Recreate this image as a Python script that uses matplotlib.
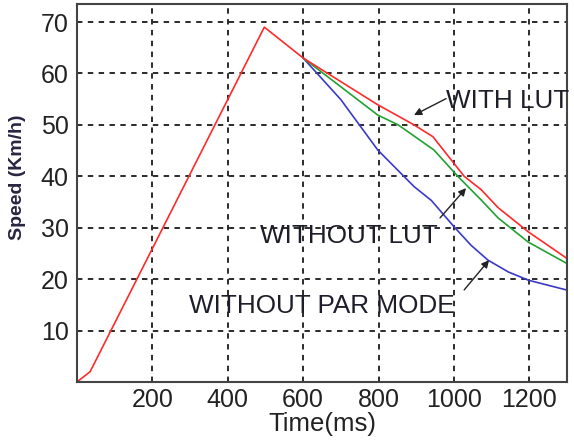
import matplotlib
matplotlib.use("Agg")
import matplotlib.pyplot as plt

# Speed profiles (km/h) versus time (ms)
t_ramp = [0, 35, 497, 600]
v_ramp = [0, 2, 69, 63]

t_with_lut = [600, 700, 798, 894, 944, 1027, 1072, 1117, 1197, 1298]
v_with_lut = [63, 58.4, 53.9, 50, 47.7, 40, 37.4, 33.9, 29.2, 24.1]

t_without_lut = [600, 700, 798, 852, 947, 1010, 1072, 1117, 1197, 1298]
v_without_lut = [63, 57.4, 51.9, 50, 45.1, 40, 35.4, 31.9, 27.2, 23.1]

t_without_par = [600, 700, 798, 894, 940, 1000, 1045, 1090, 1144, 1197, 1298]
v_without_par = [63, 54.9, 45.1, 38, 35.3, 30.2, 26.6, 23.7, 21.4, 19.8, 17.9]

x_ticks = [200, 400, 600, 800, 1000, 1200]
y_ticks = [10, 20, 30, 40, 50, 60, 70]

plt.rcParams['font.family'] = ['Liberation Sans', 'DejaVu Sans']

fig = plt.figure(figsize=(5.74, 4.45), dpi=100)
ax = fig.add_axes([0.134, 0.1416, 0.854, 0.8494])

red = '#ff2a2a'
green = '#22a032'
blue = '#3a3ac8'

ax.plot(t_ramp, v_ramp, color=red, lw=1.2)
ax.plot(t_without_par, v_without_par, color=blue, lw=1.2)
ax.plot(t_without_lut, v_without_lut, color=green, lw=1.2)
ax.plot(t_with_lut, v_with_lut, color=red, lw=1.2)

ax.set_xlim(0, 1300)
ax.set_ylim(0, 73.5)
ax.set_xticks(x_ticks)
ax.set_yticks(y_ticks)
ax.tick_params(labelsize=18, length=0, colors='#222222')
ax.tick_params(axis='x', pad=4)
ax.tick_params(axis='y', pad=6)
ax.grid(True, color='#1a1a1a', linestyle=(0, (3, 3)), linewidth=1.3)
for s in ax.spines.values():
    s.set_color('#444444')
    s.set_linewidth(1.5)

ax.set_xlabel('Time(ms)', fontsize=18.5, color='#222222', labelpad=0)
ax.set_ylabel('Speed (Km/h)', fontsize=14, fontweight='bold',
              color='#2a2440')
ax.yaxis.set_label_coords(-0.104, 0.541)

txt_color = '#1e1e2a'
fs = 18.8
arrow = dict(arrowstyle='-|>', color='#222222', lw=1.0, mutation_scale=11,
             shrinkA=0, shrinkB=0)
ax.text(979, 54.6, 'WITH LUT', fontsize=fs, color=txt_color,
        va='center', ha='left')
ax.annotate('', xy=(894, 51.9), xytext=(979, 55.1), arrowprops=arrow)

ax.text(486, 28.4, 'WITHOUT LUT', fontsize=fs, color=txt_color,
        va='center', ha='left')
ax.annotate('', xy=(1032, 37.7), xytext=(963, 31.9), arrowprops=arrow)

ax.text(298, 14.8, 'WITHOUT PAR MODE', fontsize=fs, color=txt_color,
        va='center', ha='left')
ax.annotate('', xy=(1093, 23.7), xytext=(1027, 17.9), arrowprops=arrow)

fig.savefig('out.png', dpi=100)
